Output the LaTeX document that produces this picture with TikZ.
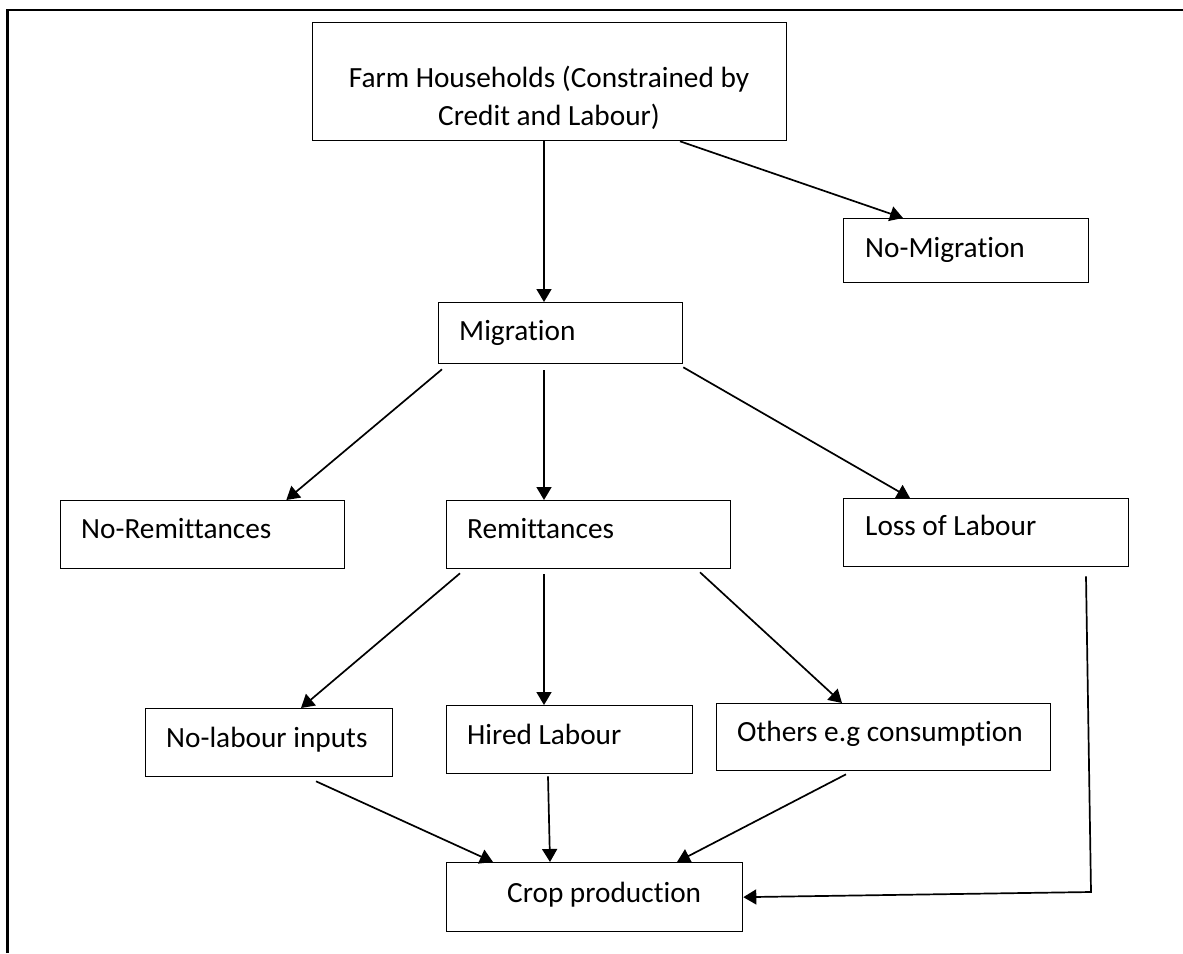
\documentclass[tikz,border=0pt]{standalone}
\usepackage{fontspec}
\setmainfont{Carlito}[RawFeature={-liga}]
\usetikzlibrary{arrows.meta,calc}
\begin{document}
\begin{tikzpicture}[x=1pt,y=-1pt,
  box/.style={draw=black,line width=1.3pt,rectangle,inner sep=0pt,anchor=north west},
  txt/.style={inner sep=0pt,font=\fontsize{29.3}{37}\selectfont},
  conn/.style={draw=black,line width=1.7pt,-{Triangle[length=13pt,width=15pt]}},
  plain/.style={draw=black,line width=1.7pt}]
\useasboundingbox (0,0) rectangle (1183,953);
% frame
\draw[line width=2.2pt] (7.5,953) -- (7.5,10) -- (1183,10);
% boxes
\node[box,minimum width=474pt,minimum height=118pt] (farm) at (312,22) {};
\node[box,minimum width=245pt,minimum height=64pt] (nomig) at (843,218) {};
\node[box,minimum width=244pt,minimum height=61pt] (mig) at (438,302) {};
\node[box,minimum width=284pt,minimum height=68pt] (norem) at (60,500) {};
\node[box,minimum width=284pt,minimum height=68pt] (rem) at (446,500) {};
\node[box,minimum width=285pt,minimum height=68pt] (loss) at (843,498) {};
\node[box,minimum width=247pt,minimum height=68pt] (nolab) at (145,708) {};
\node[box,minimum width=246pt,minimum height=68pt] (hired) at (446,705) {};
\node[box,minimum width=334pt,minimum height=67pt] (others) at (716,703) {};
\node[box,minimum width=296pt,minimum height=69pt] (crop) at (446,862) {};
% texts
\node[txt,anchor=base] (farmT1) at (549,87) {Farm Households (Constrained by};
\node[txt,anchor=base] (farmT2) at (549,125) {Credit and Labour)};
\node[txt,anchor=base west] (nomigT) at (865,257) {No-Migration};
\node[txt,anchor=base west] (migT) at (459,340) {Migration};
\node[txt,anchor=base west] (noremT) at (81,538) {No-Remittances};
\node[txt,anchor=base west] (remT) at (467,538) {Remittances};
\node[txt,anchor=base west] (lossT) at (865,535) {Loss of Labour};
\node[txt,anchor=base west] (nolabT) at (166,747) {No-labour inputs};
\node[txt,anchor=base west] (hiredT) at (467,744) {Hired Labour};
\node[txt,anchor=base west] (othersT) at (737,741) {Others e.g consumption};
\node[txt,anchor=base west] (cropT) at (507,902) {Crop production};
% connectors
\draw[conn] ($(farm.south west)+(232,0)$) -- ($(mig.north west)+(106,0)$);
\draw[conn] ($(farm.south west)+(368,0)$) -- ($(nomig.north west)+(60,0)$);
\draw[conn] ($(mig.south west)+(4,5)$) -- ($(norem.north east)+(-59,0)$);
\draw[conn] ($(mig.south west)+(106,6)$) -- ($(rem.north west)+(98,0)$);
\draw[conn] ($(mig.south east)+(0,3)$) -- ($(loss.north west)+(67,0)$);
\draw[conn] ($(rem.south west)+(14,4)$) -- ($(nolab.north west)+(156,0)$);
\draw[conn] ($(rem.south west)+(98,5)$) -- ($(hired.north west)+(98,0)$);
\draw[conn] ($(rem.south west)+(254,3)$) -- ($(others.north west)+(126,0)$);
\draw[conn] ($(nolab.south west)+(171,4)$) -- ($(crop.north west)+(47,0)$);
\draw[conn] ($(hired.south west)+(102,2)$) -- ($(crop.north west)+(104,0)$);
\draw[conn] ($(others.south west)+(130,3)$) -- ($(crop.north west)+(231,0)$);
\coordinate (lossc) at (1091,892);
\draw[conn] ($(loss.south west)+(243,9)$) -- (lossc) -- (crop.east);
\end{tikzpicture}
\end{document}
